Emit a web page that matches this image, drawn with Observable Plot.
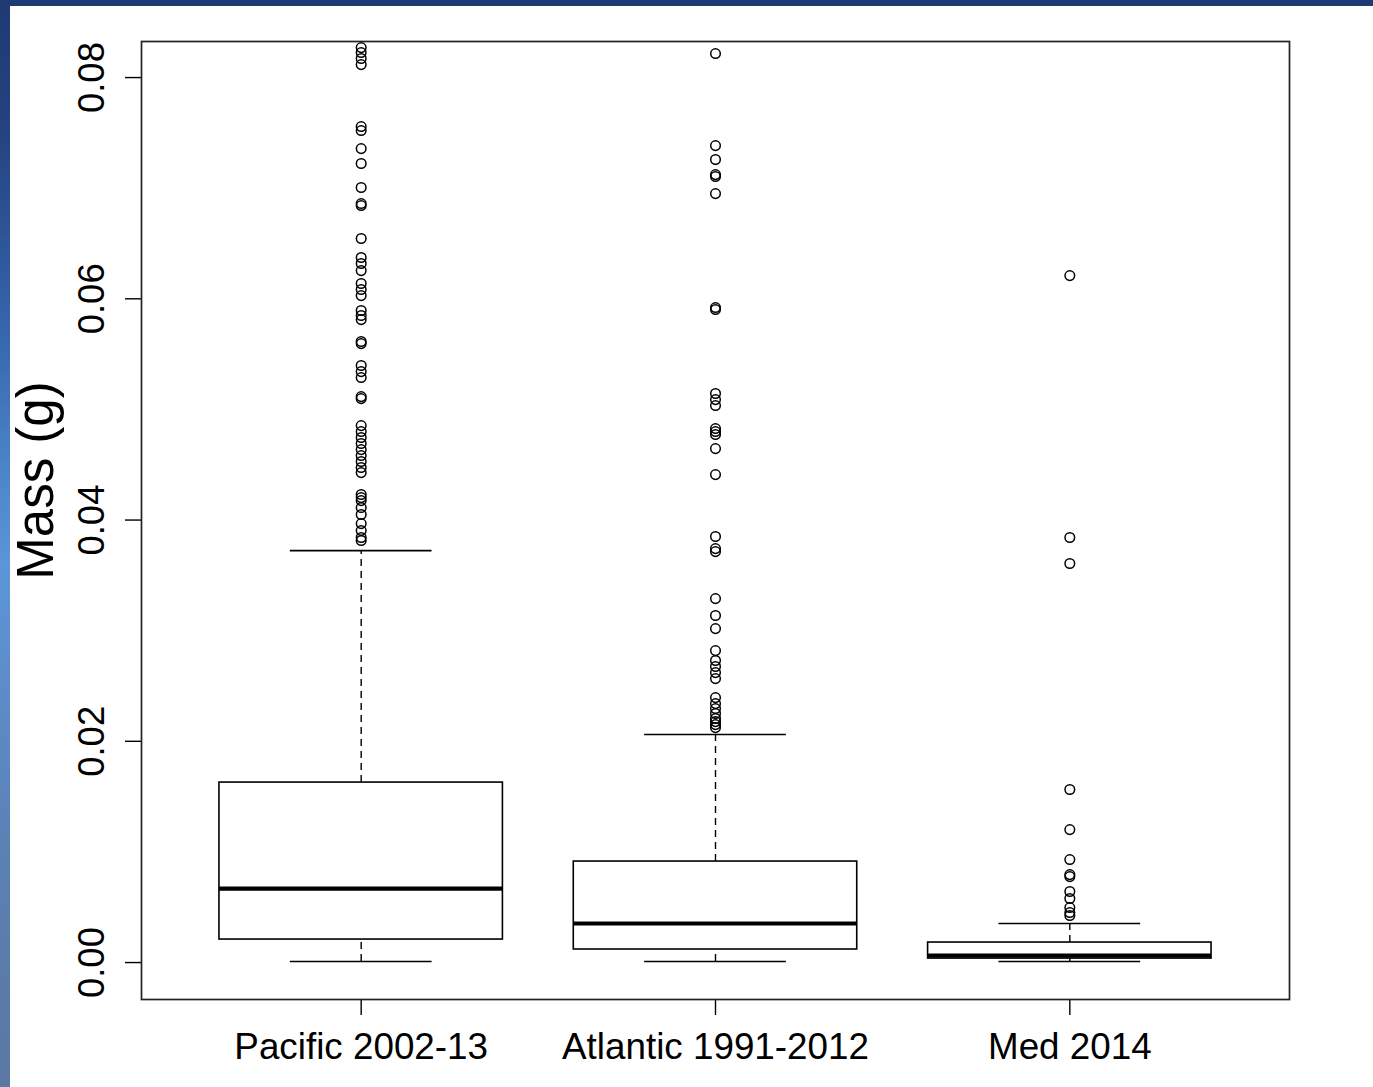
<!DOCTYPE html>
<html>
<head>
<meta charset="utf-8">
<script src="https://cdn.jsdelivr.net/npm/d3@7"></script>
<script src="https://cdn.jsdelivr.net/npm/@observablehq/plot@0.6"></script>
<style>
  html, body { margin: 0; padding: 0; background: #fff; }
  #wrap { position: relative; width: 1373px; height: 1087px; overflow: hidden; background: #fff; }
  #topbar { position: absolute; left: 0; top: 0; width: 1373px; height: 6px; background: #1f3a73; }
  #leftbar { position: absolute; left: 0; top: 0; width: 10px; height: 1087px;
    background: linear-gradient(to bottom, #1f3a73 0%, #24437f 12%, #3565ab 30%, #4f88cc 45%, #5b96d8 52%, #5d8bc6 65%, #5b80b2 80%, #5a78a3 100%); }
  #chart { position: absolute; left: 0; top: 0; }
</style>
</head>
<body>
<div id="wrap">
  <div id="chart"></div>
  <div id="topbar"></div>
  <div id="leftbar"></div>
</div>
<script>
const categories = ["Pacific 2002-13", "Atlantic 1991-2012", "Med 2014"];
const whiskerLow = [0.00009, 0.00009, 0.00009];
const q1 = [0.00208, 0.00118, 0.00036];
const medians = [0.00669, 0.00353, 0.00063];
const q3 = [0.01627, 0.00913, 0.00181];
const whiskerHigh = [0.03724, 0.02061, 0.00353];

const pacificOutliers = [0.08271, 0.08226, 0.08172, 0.08117, 0.07557, 0.07521, 0.07358, 0.07223,
  0.07006, 0.06861, 0.06843, 0.06545, 0.06373, 0.06319, 0.06255, 0.06138, 0.06084, 0.06029,
  0.05894, 0.05849, 0.05812, 0.05614, 0.05595, 0.05397, 0.05342, 0.05288, 0.05116, 0.05098,
  0.04854, 0.04800, 0.04746, 0.04692, 0.04637, 0.04583, 0.04529, 0.04475, 0.04429,
  0.04231, 0.04203, 0.04176, 0.04113, 0.04050, 0.03968, 0.03905, 0.03842, 0.03815];
const atlanticOutliers = [0.08217, 0.07385, 0.07259, 0.07123, 0.07105, 0.06951, 0.05921, 0.05903,
  0.05144, 0.05089, 0.05035, 0.04827, 0.04800, 0.04773, 0.04646, 0.04411, 0.03851, 0.03742,
  0.03715, 0.03290, 0.03137, 0.03019, 0.02820, 0.02730, 0.02676, 0.02621, 0.02567, 0.02395,
  0.02341, 0.02296, 0.02251, 0.02206, 0.02178, 0.02151, 0.02124];
const medOutliers = [0.06210, 0.03842, 0.03607, 0.01564, 0.01202, 0.00931, 0.00795, 0.00777,
  0.00642, 0.00579, 0.00497, 0.00452, 0.00425];

const yTicks = [0, 0.02, 0.04, 0.06, 0.08];
const yLabel = "Mass (g)";

const boxes = categories.map((c, k) => ({
  i: k + 1, name: c, lo: whiskerLow[k], q1: q1[k], med: medians[k], q3: q3[k], hi: whiskerHigh[k]
}));
const outliers = [pacificOutliers, atlanticOutliers, medOutliers]
  .flatMap((arr, k) => arr.map(v => ({ i: k + 1, v })));

const chart = Plot.plot({
  width: 1373,
  height: 1087,
  marginLeft: 141,
  marginRight: 84,
  marginTop: 41,
  marginBottom: 88,
  style: { fontFamily: "'Liberation Sans', Arial, sans-serif", fontSize: "36px", color: "black", background: "white" },
  x: { domain: [0.38, 3.62] },
  y: { domain: [-0.00334, 0.08326] },
  marks: [
    // whiskers (dashed)
    Plot.ruleX(boxes, { x: "i", y1: "q3", y2: "hi", stroke: "black", strokeWidth: 1.4, strokeDasharray: "7,5" }),
    Plot.ruleX(boxes, { x: "i", y1: "lo", y2: "q1", stroke: "black", strokeWidth: 1.4, strokeDasharray: "7,5" }),
    // whisker caps
    Plot.ruleY(boxes, { y: "hi", x1: d => d.i - 0.2, x2: d => d.i + 0.2, stroke: "black", strokeWidth: 1.6 }),
    Plot.ruleY(boxes, { y: "lo", x1: d => d.i - 0.2, x2: d => d.i + 0.2, stroke: "black", strokeWidth: 1.6 }),
    // boxes
    Plot.rect(boxes, { x1: d => d.i - 0.4, x2: d => d.i + 0.4, y1: "q1", y2: "q3", fill: "white", stroke: "black", strokeWidth: 1.6 }),
    // medians
    Plot.ruleY(boxes, { y: "med", x1: d => d.i - 0.4, x2: d => d.i + 0.4, stroke: "black", strokeWidth: 4.2 }),
    // outliers
    Plot.dot(outliers, { x: "i", y: "v", r: 4.8, stroke: "black", fill: "none", strokeWidth: 1.5 }),
    // axes
    Plot.axisY({ ticks: yTicks, tickFormat: d3.format(".2f"), tickSize: 16, tickRotate: -90, tickPadding: 22, fontSize: 36.5, label: null, strokeWidth: 1.4 }),
    Plot.axisX({ ticks: [1, 2, 3], tickFormat: d => categories[d - 1], tickSize: 16, tickPadding: 17, fontSize: 36.8, label: null, strokeWidth: 1.4 }),
    // y label
    Plot.text([yLabel], { frameAnchor: "left", dx: -89, dy: -40, rotate: -90, textAnchor: "middle", lineAnchor: "bottom", fontSize: 51, fill: "black" }),
    Plot.frame({ stroke: "#222", strokeWidth: 1.7 })
  ]
});
document.getElementById("chart").appendChild(chart);
</script>
</body>
</html>
